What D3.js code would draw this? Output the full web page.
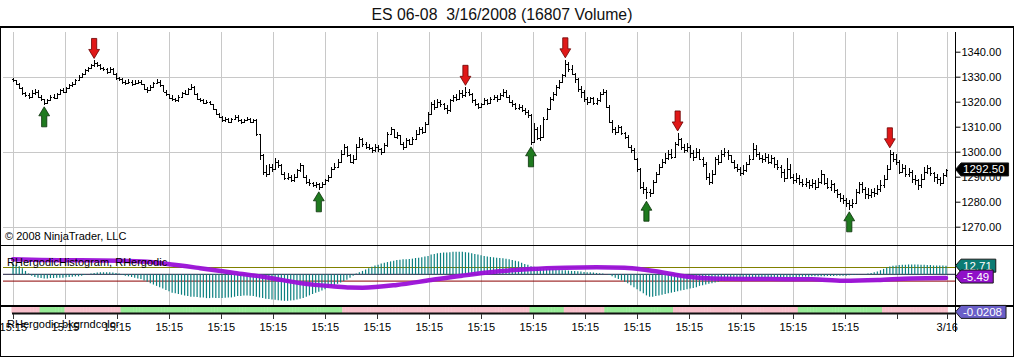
<!DOCTYPE html>
<html><head><meta charset="utf-8">
<script src="https://cdn.jsdelivr.net/npm/d3@7"></script>
<style>
body{margin:0;background:#fff}
svg{display:block}
text{font-family:Arial,"Liberation Sans",sans-serif}
</style></head>
<body><svg id="c" width="1016" height="358"></svg>
<script>
// ---------------- DATA ----------------
const titleText = "ES 06-08  3/16/2008 (16807 Volume)";
const opens = [
1329,1328.5,1327,1325.5,1323.5,1322.5,1322,1323.5,1324,1322,
1321,1319.5,1320.5,1322,1321.5,1323,1324.5,1324,1325.5,1326.5,
1327,1328.5,1330,1331,1332.5,1333.5,1334.5,1335.5,1334.5,1333.5,
1333,1332,1333,1331,1329.5,1329,1328,1327.5,1328,1327,
1327.5,1328,1327,1325,1324.5,1326,1327.5,1328,1326.5,1324,
1323,1321.5,1321,1320.5,1322,1323.5,1323,1325,1326,1323,
1321,1320.5,1319.5,1320,1319,1317,1315,1314,1312.5,1313,
1312,1313,1314,1312.5,1312,1312.5,1313,1312,1312.5,1307,
1298.5,1292,1291,1294,1293,1296,1294.5,1291,1289.5,1290,
1288.5,1290,1292.5,1294.5,1290,1288,1287.5,1286.5,1287,1286,
1287,1288.5,1290,1293,1294,1296,1299,1302,1298.5,1296,
1297,1302,1305,1303,1302,1301.5,1300.5,1302,1301,1300,
1302.5,1307,1309,1306,1306.5,1303,1302,1304.5,1303,1305,
1307,1309,1308,1311,1315,1319,1318,1320,1319,1317.5,
1316.5,1320.5,1322,1321,1323.5,1322.5,1324,1323,1320.5,1319,
1318,1319,1320.5,1319.5,1321,1322,1321,1322.5,1324,1322,
1320,1319,1317.5,1318,1316.5,1316,1314.5,1304,1309,1305.5,
1306,1313,1317,1321,1323,1326,1328,1330.5,1335,1333,
1331,1329,1325,1324,1321,1320,1321.5,1319.5,1320.5,1323,
1324,1318,1312,1309,1308,1310,1307.5,1306,1302,1300.5,
1297,1293,1286,1285,1284,1283.5,1288,1291,1294,1296,
1297.5,1299,1298,1303,1305,1302,1300.5,1302,1299.5,1298,
1300,1297,1295,1290,1288,1291,1297,1296,1299,1300,
1298.5,1296,1294,1293,1291.5,1292.5,1295,1297,1301,1299,
1297.5,1297,1298,1296,1297.5,1295,1294,1292,1289.5,1293,
1290,1288.5,1289.5,1288,1287,1288,1286.5,1287.5,1286,1288,
1291,1287.5,1286,1287,1284.5,1283,1281.5,1280.5,1279.5,1278.5,
1279.5,1284,1287,1285,1283,1282.5,1284,1283.5,1285,1286.5,
1289,1293,1299,1297,1296,1292,1293.5,1291,1292,1289,
1288.5,1286.5,1289,1292,1293.5,1291.5,1290,1289,1287.5,1290.5];
const highs = [
1329.5,1328.75,1327.5,1326,1324,1323.5,1324.5,1325,1324.5,1322.5,
1321.25,1321,1322.5,1323,1323.5,1325,1325.5,1326,1327,1328,
1329,1330.5,1331.5,1333,1334,1335,1336.5,1336,1335,1334,
1333.5,1334,1333.5,1331.5,1330,1329.5,1328.75,1329,1328.5,1328.5,
1328.75,1328.5,1327.25,1325.75,1326.5,1328,1329,1328.5,1326.75,1324.5,
1323.25,1322.5,1321.5,1322.5,1324,1324.5,1325.5,1327,1326.25,1323.5,
1321.5,1321,1320.75,1320.25,1319.25,1317.25,1315.5,1314.25,1313.75,1313.5,
1313.5,1314.75,1314.5,1313,1313.25,1313.75,1313.5,1313.25,1313.25,1307,
1299,1294.5,1295,1295.25,1297.5,1296.5,1295,1292,1291.5,1290.5,
1291,1293,1295.5,1294.75,1290.5,1289,1288,1288,1287.5,1288,
1289,1290.75,1294,1295.5,1297,1300.5,1303,1302.25,1299,1298.5,
1303,1306,1305.5,1304,1303,1302,1303,1302.75,1301.5,1303.5,
1308,1310,1309.25,1308,1306.5,1304,1305.5,1305,1306,1308.5,
1310,1309.75,1311.75,1316,1320,1320.5,1321,1320.75,1319.5,1318.5,
1321,1322.75,1323,1324.5,1324.75,1325.75,1325,1323.5,1321,1319.5,
1319.5,1321.5,1321,1322,1322.75,1322.5,1323.5,1325,1324.5,1322.5,
1320.5,1319.5,1319,1318.75,1317.5,1316.75,1315,1311.5,1310,1310.5,
1314,1317.5,1322,1324,1326.5,1328.75,1331,1336.75,1336,1334.5,
1331.5,1329.5,1326.25,1324.5,1321.75,1322,1322,1321.5,1324,1325,
1324.5,1318.5,1312.5,1310,1310.5,1310.25,1308,1306.5,1302.75,1301.5,
1297.5,1293.5,1288,1286,1285.25,1288.75,1292,1295,1297,1299.5,
1300.5,1301,1303.75,1307.5,1305.5,1303,1303.5,1302.5,1300.5,1301.5,
1301,1298,1296,1291.5,1292.5,1298,1298.5,1300.5,1301.5,1300.5,
1298.75,1296.5,1295,1294,1294.5,1296,1298.5,1303.5,1302.75,1300,
1298.5,1299.5,1299,1298.5,1298,1296.5,1294.75,1293,1297.5,1295,
1291,1291.5,1290.5,1289.25,1289.5,1288.75,1289,1288.5,1289.5,1292.75,
1291,1289.5,1288.5,1287.5,1285,1283.5,1282.5,1281.5,1280.5,1281,
1285,1288,1287.75,1286,1285.5,1285,1285.5,1286.5,1288.5,1290.5,
1294.5,1300.75,1300,1299,1296.5,1295,1294.5,1293.5,1292.5,1290.5,
1289,1291,1294,1294.75,1293.75,1292,1291,1290,1291.5,1293];
const lows = [
1327.75,1326.5,1325,1322.75,1321.75,1321.25,1321.75,1322.75,1321.5,1320.25,
1318.75,1319,1320.25,1321,1321.25,1322.75,1323.5,1323.75,1325.25,1326,
1326.75,1328.25,1329.5,1330.75,1332,1333,1334,1333.75,1332.75,1332.25,
1331.25,1331.5,1330.5,1328.75,1328.25,1327.25,1326.5,1327,1326.25,1326.5,
1327,1326.5,1324.5,1323.5,1324.25,1325.5,1327,1326,1323.75,1322.25,
1321,1320.25,1319.75,1320,1321.75,1322.5,1322.75,1324.75,1322.5,1320.5,
1319.75,1319,1319,1318.5,1316.5,1314.5,1313.5,1312,1312,1311.5,
1311.75,1312.5,1312,1311.25,1311.5,1312.25,1311.5,1311.75,1306.25,1296.5,
1290.5,1289.75,1290.5,1292,1292.75,1293.5,1290.5,1288.5,1288.75,1287.75,
1288,1289.75,1292,1289.5,1287,1286.25,1285.75,1285.5,1284.75,1285.5,
1286.75,1287.75,1289.5,1292.5,1293.5,1295.5,1298.5,1297.75,1295.5,1295.25,
1296.5,1301.5,1302,1301,1300.5,1299.5,1300,1299.75,1298.5,1299.5,
1302,1306.5,1305.5,1305,1302.5,1300.75,1301.75,1302.5,1302.75,1304.75,
1306.5,1307.25,1307.5,1310.5,1314.5,1316.5,1317.5,1318,1316.5,1315.25,
1316,1319.75,1320.25,1320.5,1321.5,1321.75,1322.25,1319.5,1318.25,1317,
1317.5,1318.5,1318.75,1319,1320.5,1320,1320.5,1322,1321.5,1319.5,
1318,1316.5,1316.75,1315.75,1314.75,1313.5,1302.75,1303.5,1304.5,1304.25,
1305.5,1312.5,1316.5,1320.25,1322.25,1325,1327.5,1330,1332,1330.5,
1327.5,1324,1321.5,1320,1318.75,1319.5,1318.5,1318.75,1320,1322.5,
1317.5,1311.5,1307.5,1306.75,1307.5,1306.5,1305.25,1301.5,1299.5,1296.5,
1292,1285,1283.25,1281,1282,1283,1287.5,1290.5,1293.5,1295.25,
1296.75,1297,1297.5,1302.25,1300.5,1299.5,1299.75,1297.5,1296.25,1297.5,
1296.5,1294,1288.75,1286.5,1287.25,1290.5,1294.5,1295.5,1298,1296.75,
1295.5,1293,1291.75,1290.25,1290.75,1292,1294.75,1296.5,1298,1296.5,
1295.5,1296,1295,1295,1293.5,1292.75,1289.5,1288,1289,1289,
1287.25,1287.5,1286.75,1285.75,1285.75,1285.25,1285.5,1284.75,1285.5,1287.25,
1286.75,1285,1284.25,1283.5,1281.5,1280,1279,1278,1276.75,1277.5,
1279,1283,1283.5,1281.25,1281,1281.5,1282,1282.5,1284,1285.5,
1288.5,1292.5,1296,1294.5,1291,1291.5,1289.75,1290,1287.5,1286.5,
1284.5,1285.5,1288.5,1291,1290.25,1288,1287.25,1286.25,1287,1290];
const closes = [
1328.5,1327,1325.5,1323.5,1322.5,1322,1323.5,1324,1322,1321,
1319.5,1320.5,1322,1321.5,1323,1324.5,1324,1325.5,1326.5,1327,
1328.5,1330,1331,1332.5,1333.5,1334.5,1335.5,1334.5,1333.5,1333,
1332,1333,1331,1329.5,1329,1328,1327.5,1328,1327,1327.5,
1328,1327,1325,1324.5,1326,1327.5,1328,1326.5,1324,1323,
1321.5,1321,1320.5,1322,1323.5,1323,1325,1326,1323,1321,
1320.5,1319.5,1320,1319,1317,1315,1314,1312.5,1313,1312,
1313,1314,1312.5,1312,1312.5,1313,1312,1312.5,1307,1298.5,
1292,1291,1294,1293,1296,1294.5,1291,1289.5,1290,1288.5,
1290,1292.5,1294.5,1290,1288,1287.5,1286.5,1287,1286,1287,
1288.5,1290,1293,1294,1296,1299,1302,1298.5,1296,1297,
1302,1305,1303,1302,1301.5,1300.5,1302,1301,1300,1302.5,
1307,1309,1306,1306.5,1303,1302,1304.5,1303,1305,1307,
1309,1308,1311,1315,1319,1318,1320,1319,1317.5,1316.5,
1320.5,1322,1321,1323.5,1322.5,1324,1323,1320.5,1319,1318,
1319,1320.5,1319.5,1321,1322,1321,1322.5,1324,1322,1320,
1319,1317.5,1318,1316.5,1316,1314.5,1304,1309,1305.5,1306,
1313,1317,1321,1323,1326,1328,1330.5,1335,1333,1331,
1329,1325,1324,1321,1320,1321.5,1319.5,1320.5,1323,1324,
1318,1312,1309,1308,1310,1307.5,1306,1302,1300.5,1297,
1293,1286,1285,1284,1283.5,1288,1291,1294,1296,1297.5,
1299,1298,1303,1305,1302,1300.5,1302,1299.5,1298,1300,
1297,1295,1290,1288,1291,1297,1296,1299,1300,1298.5,
1296,1294,1293,1291.5,1292.5,1295,1297,1301,1299,1297.5,
1297,1298,1296,1297.5,1295,1294,1292,1289.5,1293,1290,
1288.5,1289.5,1288,1287,1288,1286.5,1287.5,1286,1288,1291,
1287.5,1286,1287,1284.5,1283,1281.5,1280.5,1279.5,1278.5,1279.5,
1284,1287,1285,1283,1282.5,1284,1283.5,1285,1286.5,1289,
1293,1299,1297,1296,1292,1293.5,1291,1292,1289,1288.5,
1286.5,1289,1292,1293.5,1291.5,1290,1289,1287.5,1290.5,1292.5];
const downArrowBars = [26,145,177,213,281];
const upArrowBars = [10,98,166,203,268];
const priceTicks = [1270,1280,1290,1300,1310,1320,1330,1340];
const priceGrid = [1270,1300,1330];
const lastPrice = 1292.50;

const histValues = [
16,14,12,9,5,1,-2,-4,-5,-5.5,
-6,-6,-5.5,-5.5,-5,-5,-5,-4.5,-4,-3.5,
-3,-3,-2,-1,0,1,2,2.5,3,3,
3,3,2.5,2,1,-1,-2,-3,-4,-5,
-6,-7,-9,-11,-13,-15,-17,-19,-21,-23,
-25,-27,-28,-29,-30,-31,-32,-33,-33,-33.5,
-34,-34,-35,-35,-34.5,-35,-35,-35,-34.5,-34,
-34,-33,-32,-32,-31,-31,-31.5,-32,-33,-34,
-35,-36,-36.5,-37,-37.5,-38,-38.5,-39,-39,-38.5,
-38,-37,-36,-35,-33,-31,-29,-27,-25.5,-24,
-22,-20,-18,-16,-14,-12,-10,-8,-5,-2,
1,3,5,7,9,11,13,14,16,17,
18,19,20,21,21.5,22,22,22.5,23,24,
24.5,25,26,27,29,30,31,31.5,32,32,
32.5,33,33,33,33,32.5,32,31,30,29,
28,27,26,25.5,25,24.5,24,23.5,23,22,
21,20,19,17,15,14,12,11,10,9,
8.5,8,8,7.5,7,6.5,6,6,5.5,5,
5,4.5,4,3.5,3,3,2.5,2,1.5,1,
0,-1,-3,-5,-7,-9,-11,-13,-16,-19,
-22,-25,-28,-31,-33,-33,-32,-31,-30,-29,
-28,-27,-26,-25,-24,-23,-22,-21,-20,-19,
-17,-16,-15,-14,-13,-12,-11,-10,-9,-8,
-8,-7.5,-7,-7,-6.5,-6,-6,-5.5,-5.5,-5,
-5,-5,-5,-4.5,-4.5,-4.5,-4,-4,-4,-4,
-4,-4,-3.5,-3.5,-3.5,-3.5,-3,-3,-3,-3,
-3,-2.5,-2.5,-2.5,-2,-2,-2,-2,-1.5,-1,
-1,-0.5,0,0.5,1,2,3,4,6,8,
10,11.5,12.5,13,13.5,14,14,14.5,14.5,14.5,
14.5,14,14,13.5,13.5,13,13,13,12.8,12.71];
const ergoBars = [0,9,22,34,43,49,60,71,82,92,103,108,112,123,134,144,155,166,177,187,196,203,211,214,224,240,256,266,277,288,299];
const ergoVals = [22,21,20.5,20,18.5,15.5,9,2,-5,-13,-18,-19.5,-19.7,-15.7,-8.4,-2,4,7.8,9.7,10.3,9.7,6.3,0.5,-2,-6,-7,-7.3,-9.4,-8.4,-6,-5.49];
const histLast = 12.71, ergoLast = -5.49;
const levelLines = [10, 0, -10];
const bgStartBars = [0,9,17,35,106,166,177,190,212,252,279];
const bgColors = ["pink","green","pink","green","pink","green","pink","green","pink","green","pink"];
const bkValue = -0.0208;
const timeLabels = ["15:15","15:15","15:15","15:15","15:15","15:15","15:15","15:15","15:15","15:15","15:15","15:15","15:15","15:15","15:15","15:15","15:15","","3/16"];

// ---------------- DRAW ----------------
const N = closes.length;
const svg = d3.select("#c");
const x = d3.scaleLinear().domain([0, N - 1]).range([13, 946]);
const y = d3.scaleLinear().domain([1270, 1340]).range([226.7, 51.7]);
const yi = d3.scaleLinear().domain([-10, 10]).range([281.1, 267.5]);
const ys = d3.scaleLinear().domain([-1, 1]).range([320.5, 306]);
const xt = d3.scaleLinear().domain([0, 17, 18]).range([13.3, 897.3, 947.3]);
const AXX = 955;
const fmt2 = v => v.toFixed(2);

svg.append("rect").attr("width",1016).attr("height",358).attr("fill","#fff");

// title
svg.append("text").attr("x",502).attr("y",19.5).attr("text-anchor","middle")
  .style("font-size","15.8px").style("white-space","pre").attr("fill","#111").text(titleText);

// vertical grid
svg.append("g").selectAll("line").data(timeLabels).join("line")
  .attr("x1",(d,i)=>Math.round(xt(i))+0.5).attr("x2",(d,i)=>Math.round(xt(i))+0.5)
  .attr("y1",32).attr("y2",306).attr("stroke","#c8c8c8").attr("stroke-width",1);
// horizontal grid
svg.append("g").selectAll("line").data(priceGrid).join("line")
  .attr("x1",3).attr("x2",AXX).attr("y1",d=>Math.round(y(d))+0.5).attr("y2",d=>Math.round(y(d))+0.5)
  .attr("stroke","#c8c8c8");

// indicator panel
const ind = svg.append("g");
ind.append("clipPath").attr("id","cpi").append("rect").attr("x",1).attr("y",246).attr("width",AXX-1).attr("height",59);
const lvlColors = ["#808000","#1c1c3c","#8b0000"];
ind.selectAll("line.lv").data(levelLines).join("line").attr("class","lv")
  .attr("x1",3).attr("x2",AXX).attr("y1",d=>yi(d)).attr("y2",d=>yi(d))
  .attr("stroke",(d,i)=>lvlColors[i]).attr("stroke-width",1);
ind.append("g").attr("clip-path","url(#cpi)").selectAll("line").data(histValues).join("line")
  .attr("x1",(d,i)=>x(i)).attr("x2",(d,i)=>x(i))
  .attr("y1",yi(0)).attr("y2",d=>yi(d)).attr("stroke","#0b8080").attr("stroke-width",1.2);
const ergoLine = d3.line().x(d=>x(d[0])).y(d=>yi(d[1])).curve(d3.curveMonotoneX);
ind.append("path").attr("clip-path","url(#cpi)").attr("d",ergoLine(ergoBars.map((b,i)=>[b,ergoVals[i]])))
  .attr("fill","none").attr("stroke","#9a10d8").attr("stroke-width",4.5).attr("stroke-linecap","round").attr("opacity",0.95);
svg.append("text").attr("x",7).attr("y",266).style("font-size","11px").attr("fill","#000")
  .text("RHergodicHistogram, RHergodic");

// background colour strip
const colMap = {pink:"#f9c0cc", green:"#98ec98"};
const bw = (x(1)-x(0));
svg.append("g").selectAll("rect").data(d3.range(N)).join("rect")
  .attr("x",i=>x(i)-bw/2).attr("width",bw+0.4).attr("y",306.5).attr("height",6.5)
  .attr("fill",i=>colMap[bgColors[d3.bisectRight(bgStartBars,i)-1]]);
svg.append("line").attr("x1",12).attr("x2",AXX).attr("y1",ys(bkValue)).attr("y2",ys(bkValue))
  .attr("stroke","#111").attr("stroke-width",2);

// time ticks & labels
svg.append("g").selectAll("line").data(timeLabels).join("line")
  .attr("x1",(d,i)=>Math.round(xt(i))+0.5).attr("x2",(d,i)=>Math.round(xt(i))+0.5)
  .attr("y1",314).attr("y2",319).attr("stroke","#333");
svg.append("g").selectAll("text").data(timeLabels).join("text")
  .attr("x",(d,i)=>xt(i)).attr("y",331).attr("text-anchor","middle")
  .style("font-size","11px").attr("fill","#000").text(d=>d);
svg.append("text").attr("x",7).attr("y",327.5).style("font-size","11px").attr("fill","#000")
  .text("RHergodic bkgrndcolor");

// price bars
const bars = svg.append("g").attr("stroke","#000").attr("stroke-width",1).attr("shape-rendering","crispEdges");
d3.range(N).forEach(i=>{
  const xc = Math.round(x(i))+0.5;
  bars.append("line").attr("x1",xc).attr("x2",xc).attr("y1",y(highs[i])).attr("y2",y(lows[i]));
  bars.append("line").attr("x1",xc-1.5).attr("x2",xc).attr("y1",Math.round(y(opens[i]))+0.5).attr("y2",Math.round(y(opens[i]))+0.5);
  bars.append("line").attr("x1",xc).attr("x2",xc+1.5).attr("y1",Math.round(y(closes[i]))+0.5).attr("y2",Math.round(y(closes[i]))+0.5);
});

// arrows
function arrowPath(cx, tip, dir){ // dir=1 down arrow (tip below), -1 up arrow
  const L=20, head=9, sw=2.6, hw=5.4;
  const b = tip - dir*L, hb = tip - dir*head;
  return `M${cx-sw},${b}L${cx+sw},${b}L${cx+sw},${hb}L${cx+hw},${hb}L${cx},${tip}L${cx-hw},${hb}L${cx-sw},${hb}Z`;
}
svg.append("g").selectAll("path").data(downArrowBars).join("path")
  .attr("d",i=>arrowPath(x(i), y(highs[i])-2, 1)).attr("fill","#e01818").attr("stroke","#6a0000").attr("stroke-width",0.8);
svg.append("g").selectAll("path").data(upArrowBars).join("path")
  .attr("d",i=>arrowPath(x(i), y(lows[i])+2, -1)).attr("fill","#1f7a1f").attr("stroke","#0a300a").attr("stroke-width",0.8);

svg.append("text").attr("x",5).attr("y",240).style("font-size","11px").attr("fill","#000")
  .text("\u00A9 2008 NinjaTrader, LLC");

// frames
const fr = svg.append("g").attr("stroke","#000").attr("shape-rendering","crispEdges");
fr.append("line").attr("x1",0).attr("x2",1014).attr("y1",27).attr("y2",27).attr("stroke-width",2);
fr.append("line").attr("x1",0).attr("x2",1014).attr("y1",245.5).attr("y2",245.5).attr("stroke-width",1.5);
fr.append("line").attr("x1",0).attr("x2",1014).attr("y1",306).attr("y2",306).attr("stroke-width",1.5);
fr.append("line").attr("x1",0).attr("x2",1014).attr("y1",356.5).attr("y2",356.5).attr("stroke-width",1.5);
fr.append("line").attr("x1",0.5).attr("x2",0.5).attr("y1",27).attr("y2",357);
fr.append("line").attr("x1",1013.5).attr("x2",1013.5).attr("y1",27).attr("y2",357).attr("stroke-width",1.5);
fr.append("line").attr("x1",AXX+0.5).attr("x2",AXX+0.5).attr("y1",32).attr("y2",332);

// price axis
const yAxis = d3.axisRight(y).tickValues(priceTicks).tickSize(5).tickPadding(1).tickFormat(fmt2);
const ga = svg.append("g").attr("transform",`translate(${AXX+0.5},0)`).call(yAxis);
ga.select(".domain").remove();
ga.selectAll("text").style("font-size","11px").style("font-family","Arial,'Liberation Sans',sans-serif").attr("fill","#000");
ga.selectAll("line").attr("stroke","#000");

// value tags
function tag(yc, txt, fill){
  const g = svg.append("g");
  const t = g.append("text").attr("x",AXX+8).attr("y",yc+4).style("font-size","11.5px").attr("fill","#fff").text(txt);
  const w = t.node().getComputedTextLength()+12;
  const h = 13, n = 6;
  g.insert("path","text").attr("d",`M${AXX+0.5},${yc}L${AXX+n},${yc-h/2}L${AXX+w},${yc-h/2}L${AXX+w},${yc+h/2}L${AXX+n},${yc+h/2}Z`)
    .attr("fill",fill).attr("stroke","#1a1a1a").attr("stroke-width",1);
}
tag(y(lastPrice)-1, fmt2(lastPrice), "#000");
tag(yi(histLast), fmt2(histLast), "#0b7b73");
tag(yi(ergoLast)-1.5, fmt2(ergoLast), "#9010c8");
tag(ys(bkValue)-1.5, String(bkValue), "#6a5fc8");
</script></body></html>
